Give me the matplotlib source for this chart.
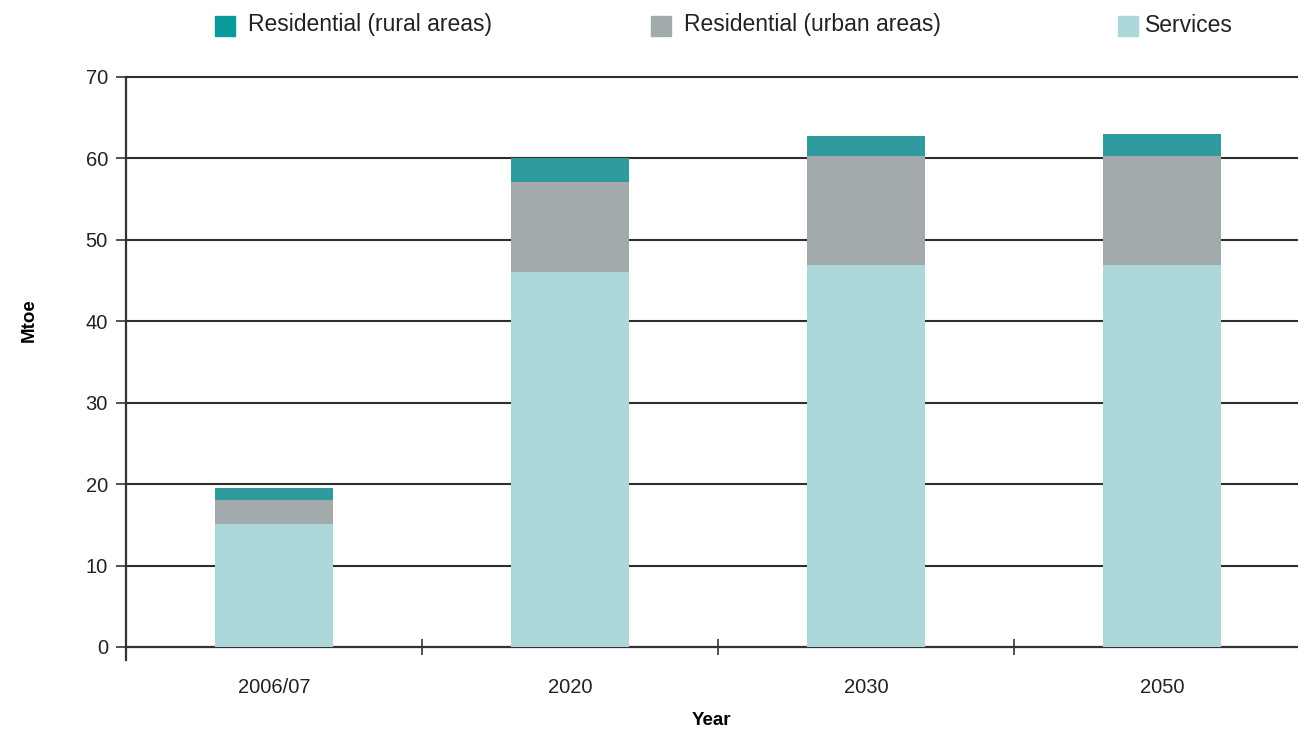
import matplotlib
matplotlib.use("Agg")
import matplotlib.pyplot as plt
import numpy as np

plt.rcParams['font.family'] = ['Liberation Sans', 'DejaVu Sans']

categories = ["2006/07", "2020", "2030", "2050"]
services = [15.1, 46.1, 46.9, 46.9]
urban = [3.0, 11.0, 13.4, 13.4]
rural = [1.4, 2.9, 2.4, 2.65]
series_names = ["Residential (rural areas)", "Residential (urban areas)", "Services"]
yticks = [0, 10, 20, 30, 40, 50, 60, 70]

c_rural = "#2e9a9e"
c_urban = "#a2aaab"
c_serv = "#acd8d9"

fig = plt.figure(figsize=(12.98, 7.33), dpi=100)
ax = fig.add_axes([126/1298, 1-647/733, 1184/1298, 570/733])

x = np.arange(len(categories))
w = 0.40
ax.bar(x, services, w, color=c_serv, zorder=3)
ax.bar(x, urban, w, bottom=services, color=c_urban, zorder=3)
bot2 = np.array(services) + np.array(urban)
ax.bar(x, rural, w, bottom=bot2, color=c_rural, zorder=3)

ax.set_xlim(-0.5, len(categories) - 0.5)
ax.set_ylim(0, 70)
ax.set_yticks(yticks)
ax.set_yticklabels([str(v) for v in yticks], fontsize=14.5, color="#222222")
for v in yticks[1:]:
    ax.axhline(v, color="#2e2e2e", lw=1.5, zorder=2, clip_on=False)

ax.set_xticks(x + 0.5)
ax.set_xticks(x, minor=True)
ax.set_xticklabels([])
ax.set_xticklabels(categories, minor=True, fontsize=14.5, color="#222222")
ax.tick_params(axis='x', which='minor', length=0, pad=22)
ax.tick_params(axis='x', which='major', direction='inout', length=11, width=1.2, color="#333333")
ax.tick_params(axis='y', direction='out', length=7, width=1.2, color="#333333", pad=6)

for s in ['top', 'right']:
    ax.spines[s].set_visible(False)
for s in ['left', 'bottom']:
    ax.spines[s].set_color("#333333")
    ax.spines[s].set_linewidth(1.6)
ax.plot([0, 0], [0, -0.022], transform=ax.transAxes, color="#333333", lw=1.6, clip_on=False)

ax.set_ylabel("Mtoe", fontsize=13.5, fontweight='bold')
ax.yaxis.set_label_coords(-88/1184, (647-320)/570)
ax.set_xlabel("Year", fontsize=13.5, fontweight='bold')
ax.xaxis.set_label_coords((711-126)/1184, -65/570)

leg_x = [215, 651, 1118]
for hx, name, col in zip(leg_x, series_names, ["#0a9a9c", c_urban, c_serv]):
    fig.patches.append(matplotlib.patches.Rectangle((hx/1298, 1-36/733), 20/1298, 20/733,
                       transform=fig.transFigure, color=col))
    fig.text((hx + (33 if hx != 1118 else 27))/1298, 1-25/733, name, fontsize=16.5,
             va='center', ha='left', color="#222222")

fig.savefig("out.png", dpi=100)
